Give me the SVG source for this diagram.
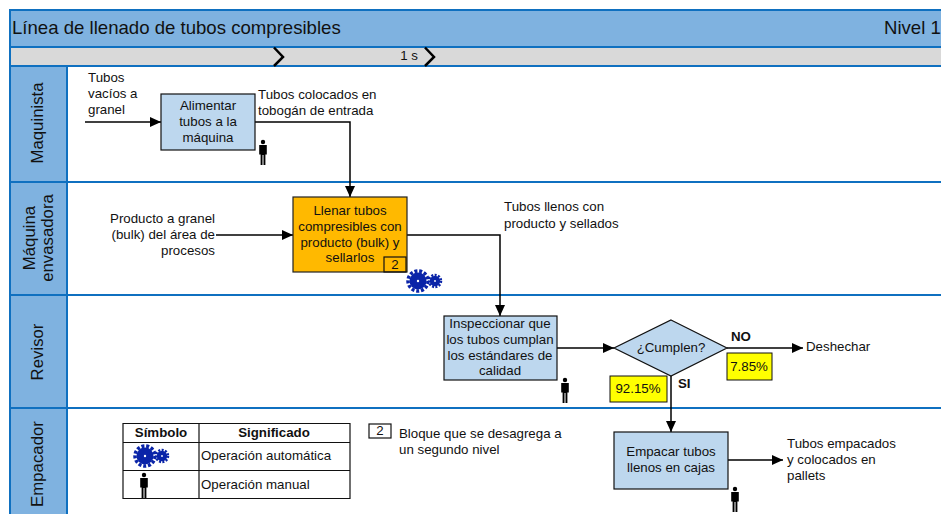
<svg xmlns="http://www.w3.org/2000/svg" width="941" height="514" viewBox="0 0 941 514">
<defs>
<marker id="arr" markerUnits="userSpaceOnUse" markerWidth="13" markerHeight="11" refX="11" refY="5" orient="auto"><path d="M0 0L11 5L0 10Z" fill="#000"/></marker>
<g id="person"><circle cx="0" cy="2" r="2.200" fill="#000"/><path d="M-3.800 5H3.800V14.500H2.400V25H.5V15H-.5V25H-2.400V14.500H-3.800Z" fill="#000"/></g>
<g id="gears"><circle cx="0" cy="0" r="8.500" fill="#0a24a8"/><circle cx="0" cy="0" r="10" fill="none" stroke="#0a24a8" stroke-width="3.500" stroke-dasharray="3 1.800"/><circle cx="0" cy="0" r="1.200" fill="#fff"/><circle cx="17" cy="0" r="5.200" fill="#0a24a8"/><circle cx="17" cy="0" r="6" fill="none" stroke="#0a24a8" stroke-width="2.500" stroke-dasharray="2 1.400"/><circle cx="17" cy="0" r=".9" fill="#fff"/></g>
</defs>
<style>
text{font-family:"Liberation Sans",Arial,sans-serif;font-size:13.300px;fill:#111}
.c{text-anchor:middle}.e{text-anchor:end}.b{font-weight:bold}
.lane{font-size:16.800px;text-anchor:middle}
.sep{stroke:#0f70c0;stroke-width:2;fill:none}
.box{fill:#bdd7ee;stroke:#111;stroke-width:1.200}
.conn{fill:none;stroke:#000;stroke-width:1.500}
.tag{fill:#ff0;stroke:#111;stroke-width:1}
.tbl{fill:none;stroke:#111;stroke-width:1.200}
</style>
<rect width="941" height="514" fill="#fff"/>
<g id="frame">
<rect x="10" y="10" width="931" height="37" fill="#7fb2e0"/>
<rect x="10" y="47" width="931" height="19" fill="#d9d9d9"/>
<rect x="10" y="66" width="57" height="448" fill="#7fb2e0"/>
<path class="sep" d="M941 10H10V514M10 47H941M10 66H941M10 182H941M10 295H941M10 408H941M67 66V514"/>
<text x="12" y="34" style="font-size:18.600px">Línea de llenado de tubos compresibles</text>
<text x="884" y="34" style="font-size:18.600px">Nivel 1</text>
<text x="409" y="60" class="c">1 s</text>
<path d="M274 47.500L283 57L274 66M425 47.500L434 57L425 66" fill="none" stroke="#000" stroke-width="2.500"/>
<text class="lane" transform="translate(43 123) rotate(-90)">Maquinista</text>
<text class="lane" transform="translate(35 238) rotate(-90)"><tspan x="0" y="0">Máquina</tspan><tspan x="0" y="18">envasadora</tspan></text>
<text class="lane" transform="translate(43 352) rotate(-90)">Revisor</text>
<text class="lane" transform="translate(43 464) rotate(-90)">Empacador</text>
</g>
<g id="connectors">
<path class="conn" marker-end="url(#arr)" d="M85 122H161"/>
<path class="conn" marker-end="url(#arr)" d="M255 122H350V197"/>
<path class="conn" marker-end="url(#arr)" d="M216 235H293"/>
<path class="conn" marker-end="url(#arr)" d="M407 235H500V316"/>
<path class="conn" marker-end="url(#arr)" d="M557 348H614"/>
<path class="conn" marker-end="url(#arr)" d="M727 348H803"/>
<path class="conn" marker-end="url(#arr)" d="M671 376V432"/>
<path class="conn" marker-end="url(#arr)" d="M728 460H783"/>
</g>
<g id="n-alimentar"><rect class="box" x="161" y="94" width="94" height="56"/>
<text class="c" x="208" y="110">Alimentar</text><text class="c" x="208" y="126">tubos a la</text><text class="c" x="208" y="142">máquina</text>
<use href="#person" x="263" y="140"/></g>
<g id="n-llenar"><rect x="293" y="197" width="114" height="75" fill="#ffb900" stroke="#222" stroke-width="1.200"/>
<text class="c" x="350" y="215">Llenar tubos</text><text class="c" x="350" y="231">compresibles con</text><text class="c" x="350" y="247">producto (bulk) y</text><text class="c" x="350" y="262">sellarlos</text>
<rect x="384" y="257" width="22" height="15" fill="none" stroke="#111" stroke-width="1.200"/><text class="c" x="395" y="269">2</text>
<use href="#gears" x="418" y="281"/></g>
<g id="n-inspeccionar"><rect class="box" x="444" y="316" width="113" height="64"/>
<text class="c" x="500" y="328">Inspeccionar que</text><text class="c" x="500" y="344">los tubos cumplan</text><text class="c" x="500" y="360">los estándares de</text><text class="c" x="500" y="375">calidad</text>
<use href="#person" x="565" y="378"/></g>
<g id="n-cumplen"><path class="box" d="M671 320L727 348L671 376L614 348Z"/><text class="c" x="671" y="352">¿Cumplen?</text></g>
<g id="n-empacar"><rect class="box" x="614" y="432" width="114" height="57"/>
<text class="c" x="671" y="456">Empacar tubos</text><text class="c" x="671" y="472">llenos en cajas</text>
<use href="#person" x="735" y="487"/></g>
<g id="tags">
<rect class="tag" x="610" y="376" width="57" height="26"/><text class="c" x="638" y="393">92.15%</text>
<rect class="tag" x="727" y="353" width="45" height="27"/><text class="c" x="749" y="371">7.85%</text>
<text class="b" x="731" y="341">NO</text><text class="b" x="678" y="388">SI</text>
</g>
<g id="labels">
<text x="88" y="82">Tubos</text><text x="88" y="98">vacíos a</text><text x="88" y="114">granel</text>
<text x="258" y="99">Tubos colocados en</text><text x="258" y="115">tobogán de entrada</text>
<text class="e" x="215" y="223">Producto a granel</text><text class="e" x="215" y="239">(bulk) del área de</text><text class="e" x="215" y="255">procesos</text>
<text x="504" y="211">Tubos llenos con</text><text x="504" y="228">producto y sellados</text>
<text x="806" y="351">Deshechar</text>
<text x="787" y="448">Tubos empacados</text><text x="787" y="464">y colocados en</text><text x="787" y="480">pallets</text>
</g>
<g id="legend">
<path class="tbl" d="M123 423.500H350V498.500H123ZM123 442.500H350M123 470.500H350M199 423.500V498.500"/>
<text class="b c" x="161" y="437">Símbolo</text><text class="b c" x="274" y="437">Significado</text>
<use href="#gears" x="145" y="456"/><use href="#person" x="144" y="473"/>
<text x="201" y="460">Operación automática</text><text x="201" y="489">Operación manual</text>
<rect x="369" y="424" width="22" height="14" fill="none" stroke="#111" stroke-width="1.200"/><text class="c" x="380" y="435">2</text>
<text x="399" y="438">Bloque que se desagrega a</text><text x="399" y="454">un segundo nivel</text>
</g>
</svg>
